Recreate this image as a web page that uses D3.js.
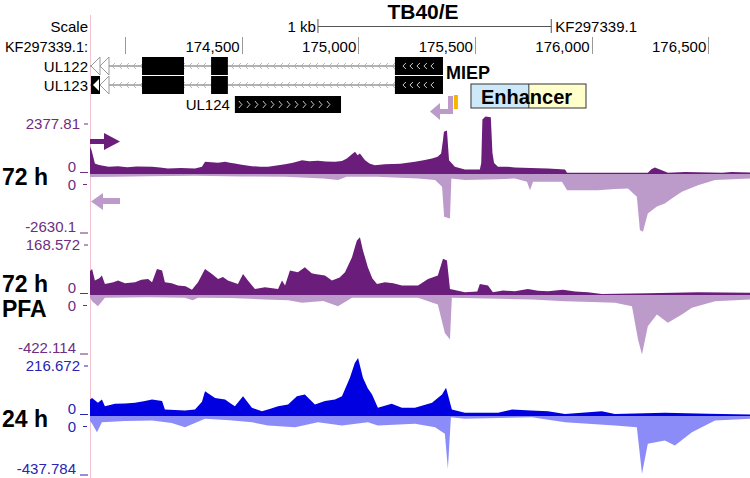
<!doctype html>
<html>
  <head>
    <script src="https://d3js.org/d3.v7.min.js"></script>
    <style>
      body { margin: 0; background: #fff; }
      svg text { font-family: "Liberation Sans", Arial, sans-serif; }
      .lbl { font-size: 15px; fill: #000; }
      .big { font-size: 23px; font-weight: bold; fill: #000; }
    </style>
  </head>
  <body>
    <div id="area1"></div>
    <script>
      var width = 750, height = 478;

      // genome window and axis ticks (bp)
      var viewStart = 173850, viewEnd = 176679;
      var tickPos = [174000, 174500, 175000, 175500, 176000, 176500];
      var tickLabels = ["", "174,500", "175,000", "175,500", "176,000", "176,500"];

      // gene models (bp)
      var intronSpan = [173850, 175157];
      var exons = [[174073, 174253], [174369, 174441], [175157, 175363]];
      var ul124 = [174471, 174926];
      var enhancer = [175483, 175731, 175976];
      var orangeMark = [175410, 175427];

      // track names and y-axis ranges
      var trackNames = [["72 h"], ["72 h", "PFA"], ["24 h"]];
      var trackMax = [2377.81, 168.572, 216.672];
      var trackMin = [-2630.1, -422.114, -437.784];

      // signal, [bp, value]
      var t1Plus = [[173850,1300],[173857,1100],[173871,480],[173885,420],[173900,385],[173930,330],[173970,350],[174010,300],[174050,340],[174116,320],[174150,290],[174184,240],[174240,260],[174300,240],[174330,330],[174343,560],[174370,540],[174399,515],[174429,560],[174450,520],[174471,480],[174500,420],[174544,350],[174580,330],[174613,320],[174650,380],[174686,445],[174720,520],[174759,640],[174790,590],[174827,610],[174860,580],[174900,560],[174930,600],[174951,720],[174970,900],[174986,1040],[174997,880],[175007,960],[175029,640],[175050,470],[175071,400],[175114,445],[175180,470],[175243,560],[175280,640],[175316,720],[175340,800],[175355,960],[175363,1600],[175367,2000],[175380,2060],[175389,640],[175414,320],[175457,190],[175521,190],[175527,500],[175532,2600],[175545,2740],[175568,2700],[175575,1000],[175582,500],[175599,320],[175640,330],[175671,290],[175740,270],[175813,240],[175850,220],[175886,190],[175895,35],[176241,35],[176256,200],[176271,290],[176301,160],[176327,35],[176400,70],[176456,60],[176560,40],[176600,70],[176679,50]];
      var t1Minus = [[173850,150],[173970,145],[174100,120],[174300,100],[174500,130],[174686,145],[174850,220],[174913,290],[174950,145],[175080,145],[175256,220],[175329,290],[175359,580],[175368,1900],[175393,1970],[175399,220],[175457,290],[175600,250],[175671,220],[175723,365],[175736,730],[175749,365],[175873,365],[175895,730],[176027,730],[176100,680],[176156,660],[176194,1020],[176207,2480],[176220,2550],[176241,1750],[176280,1450],[176314,1310],[176350,1050],[176387,800],[176456,510],[176529,290],[176679,220]];
      var t2Plus = [[173850,80],[173859,87],[173871,48],[173890,55],[173901,65],[173914,36],[173950,42],[173970,48],[174000,38],[174043,42],[174070,50],[174099,53],[174116,42],[174137,87],[174159,82],[174171,42],[174200,38],[174227,31],[174260,28],[174287,16],[174313,42],[174343,87],[174373,70],[174399,53],[174420,60],[174441,48],[174484,36],[174506,70],[174527,48],[174557,19],[174600,25],[174656,19],[174673,48],[174686,31],[174707,82],[174741,76],[174771,93],[174800,72],[174814,70],[174857,65],[174887,48],[174920,58],[174943,76],[174973,127],[174985,160],[174994,184],[175007,195],[175020,150],[175041,93],[175060,55],[175080,36],[175114,42],[175150,38],[175187,31],[175256,31],[175299,53],[175341,65],[175363,122],[175380,116],[175393,19],[175457,8],[175510,10],[175521,36],[175556,31],[175577,8],[175620,14],[175671,11],[175727,19],[175770,13],[175813,11],[175877,16],[175930,10],[175984,8],[176044,2],[176241,4],[176456,8],[176679,6]];
      var t2Minus = [[173850,23],[173859,47],[173884,82],[173914,23],[174100,20],[174257,23],[174290,40],[174313,23],[174450,25],[174600,35],[174700,40],[174759,58],[174850,45],[174913,82],[174973,23],[175256,23],[175341,70],[175371,270],[175393,317],[175401,23],[175744,35],[175886,47],[176000,52],[176100,58],[176173,82],[176199,317],[176216,422],[176241,223],[176280,141],[176327,199],[176387,141],[176430,94],[176529,47],[176679,35]];
      var t3Plus = [[173850,70],[173859,77],[173884,56],[173901,70],[173914,41],[173957,51],[174000,52],[174043,56],[174080,62],[174116,70],[174159,63],[174171,26],[174257,22],[174300,26],[174330,60],[174343,106],[174386,77],[174429,70],[174450,55],[174471,41],[174506,84],[174544,34],[174587,19],[174620,28],[174656,41],[174699,48],[174737,84],[174771,92],[174814,48],[174857,63],[174900,70],[174930,84],[174964,165],[174985,230],[174999,252],[175020,165],[175040,120],[175059,92],[175084,34],[175143,51],[175187,34],[175243,34],[175316,56],[175359,92],[175376,121],[175384,92],[175401,26],[175457,12],[175599,12],[175659,26],[175740,22],[175813,19],[175886,7],[176044,19],[176100,7],[176314,12],[176500,8],[176679,4]];
      var t3Minus = [[173850,40],[173859,61],[173880,122],[173901,49],[174000,40],[174116,36],[174200,55],[174257,85],[174343,24],[174450,35],[174544,49],[174613,73],[174729,85],[174827,49],[174930,73],[175041,49],[175084,73],[175243,61],[175329,85],[175371,134],[175384,389],[175397,12],[175457,24],[175744,12],[175886,49],[176100,73],[176194,85],[176216,425],[176241,206],[176314,182],[176357,219],[176430,122],[176529,36],[176679,24]];

      var plusSeries = [t1Plus, t2Plus, t3Plus];
      var minusSeries = [t1Minus, t2Minus, t3Minus];
      var darkCol = ["#6b1d7b", "#6b1d7b", "#0000e0"];
      var lightCol = ["#bc9bcb", "#bc9bcb", "#8c8cf8"];
      var axisCol = ["#6e2d80", "#6e2d80", "#2626b0"];

      var svg = d3.select("#area1").append("svg")
          .attr("width", width)
          .attr("height", height);

      var x = d3.scaleLinear().domain([viewStart, viewEnd]).range([90, 750]);

      // pink left guide
      svg.append("line")
          .attr("x1", 90.5).attr("x2", 90.5).attr("y1", 15).attr("y2", height)
          .attr("stroke", "#f2c4d2").attr("stroke-width", 1);

      // title + scale bar
      svg.append("text").attr("x", 423).attr("y", 19)
          .attr("text-anchor", "middle").style("font-size", "21px").style("font-weight", "bold")
          .text("TB40/E");
      svg.append("text").attr("class", "lbl").attr("x", 88).attr("y", 32)
          .attr("text-anchor", "end").text("Scale");
      svg.append("text").attr("class", "lbl").attr("x", x(174750) + 16).attr("y", 32)
          .attr("text-anchor", "end").text("1 kb");
      svg.append("line").attr("x1", x(174750) + 18).attr("x2", x(175750) + 18)
          .attr("y1", 26.5).attr("y2", 26.5).attr("stroke", "#555");
      [x(174750) + 18, x(175750) + 18].forEach(function(p) {
        svg.append("line").attr("x1", p).attr("x2", p).attr("y1", 19).attr("y2", 33)
            .attr("stroke", "#555");
      });
      svg.append("text").attr("class", "lbl").attr("x", x(175750) + 22).attr("y", 32)
          .text("KF297339.1");

      // position axis
      svg.append("text").attr("class", "lbl").style("font-size", "14.5px").attr("x", 88).attr("y", 52)
          .attr("text-anchor", "end").text("KF297339.1:");
      tickPos.forEach(function(p, i) {
        svg.append("line").attr("x1", Math.round(x(p)) + 0.5).attr("x2", Math.round(x(p)) + 0.5)
            .attr("y1", 37).attr("y2", 54).attr("stroke", "#999");
        svg.append("text").attr("class", "lbl").attr("x", x(p) - 2).attr("y", 52)
            .attr("text-anchor", "end").text(tickLabels[i]);
      });

      // gene rows
      var rows = [{name: "UL122", y: 57}, {name: "UL123", y: 76}];
      var rowH = 18;
      rows.forEach(function(r, ri) {
        var cy = r.y + rowH / 2;
        svg.append("text").attr("class", "lbl").attr("x", 88).attr("y", cy + 5.5)
            .attr("text-anchor", "end").text(r.name);
        svg.append("line").attr("x1", x(intronSpan[0])).attr("x2", x(intronSpan[1]))
            .attr("y1", cy).attr("y2", cy).attr("stroke", "#999").attr("stroke-width", 1.5);
        // strand chevrons
        for (var cx = x(intronSpan[0]) + 22; cx < x(intronSpan[1]) - 2; cx += 7) {
          svg.append("path")
              .attr("d", "M" + (cx + 3) + "," + (cy - 3) + "L" + cx + "," + cy + "L" + (cx + 3) + "," + (cy + 3))
              .attr("fill", "none").attr("stroke", "#aaa").attr("stroke-width", 0.8);
        }
        exons.forEach(function(e) {
          svg.append("rect").attr("x", x(e[0])).attr("y", r.y)
              .attr("width", x(e[1]) - x(e[0])).attr("height", rowH).attr("fill", "#000");
        });
        var ex = exons[2];
        for (var k = 0; k < 5; k++) {
          var kx = x(ex[0]) + 8 + k * 7;
          svg.append("path")
              .attr("d", "M" + (kx + 3) + "," + (cy - 3) + "L" + kx + "," + cy + "L" + (kx + 3) + "," + (cy + 3))
              .attr("fill", "none").attr("stroke", "#fff").attr("stroke-width", 0.8);
        }
        // left-edge triangles
        var lx = x(viewStart);
        if (ri === 1) {
          svg.append("rect").attr("x", lx + 1).attr("y", r.y).attr("width", 9).attr("height", rowH).attr("fill", "#000");
          svg.append("path").attr("d", "M" + (lx + 3) + "," + cy + "L" + (lx + 9) + "," + (r.y + 3) + "L" + (lx + 9) + "," + (r.y + rowH - 3) + "Z")
              .attr("fill", "#fff");
        } else {
          svg.append("path").attr("d", "M" + (lx + 1) + "," + cy + "L" + (lx + 10) + "," + r.y + "L" + (lx + 10) + "," + (r.y + rowH) + "Z")
              .attr("fill", "#fff").attr("stroke", "#999");
        }
        svg.append("path").attr("d", "M" + (lx + 10) + "," + cy + "L" + (lx + 19) + "," + r.y + "L" + (lx + 19) + "," + (r.y + rowH) + "Z")
            .attr("fill", "#fff").attr("stroke", "#999");
      });
      svg.append("text").attr("x", x(exons[2][1]) + 3).attr("y", 79)
          .style("font-size", "18px").style("font-weight", "bold").text("MIEP");

      // UL124
      svg.append("text").attr("class", "lbl").attr("x", x(ul124[0]) - 5).attr("y", 110)
          .attr("text-anchor", "end").text("UL124");
      svg.append("rect").attr("x", x(ul124[0])).attr("y", 96)
          .attr("width", x(ul124[1]) - x(ul124[0])).attr("height", 17).attr("fill", "#000");
      for (var k = x(ul124[0]) + 4; k < x(ul124[1]) - 8; k += 8) {
        svg.append("path").attr("d", "M" + k + ",101L" + (k + 3) + ",104.5L" + k + ",108")
            .attr("fill", "none").attr("stroke", "#fff").attr("stroke-width", 0.8);
      }

      // enhancer box
      svg.append("rect").attr("x", x(enhancer[0])).attr("y", 84)
          .attr("width", x(enhancer[1]) - x(enhancer[0])).attr("height", 24).attr("fill", "#cde9f9");
      svg.append("rect").attr("x", x(enhancer[1])).attr("y", 84)
          .attr("width", x(enhancer[2]) - x(enhancer[1])).attr("height", 24).attr("fill", "#ffffcc");
      svg.append("rect").attr("x", x(enhancer[0])).attr("y", 84)
          .attr("width", x(enhancer[2]) - x(enhancer[0])).attr("height", 24)
          .attr("fill", "none").attr("stroke", "#333");
      svg.append("line").attr("x1", x(enhancer[1])).attr("x2", x(enhancer[1]))
          .attr("y1", 84).attr("y2", 108).attr("stroke", "#333");
      svg.append("text").attr("x", x(enhancer[0]) + 10).attr("y", 104)
          .style("font-size", "20px").style("font-weight", "bold").text("Enhancer");

      // orange mark + bent arrow
      svg.append("rect").attr("x", x(orangeMark[0])).attr("y", 95)
          .attr("width", x(orangeMark[1]) - x(orangeMark[0])).attr("height", 14).attr("fill", "#f7b500");
      svg.append("path")
          .attr("d", "M448,96L453,96L453,114L440,114L440,120L430,111.5L440,103L440,109L448,109Z")
          .attr("fill", "#bc9bcb");

      // signal tracks
      var trackTop = [124, 245, 366], posH = 49.5, negH = 60;
      trackTop.forEach(function(top, i) {
        var zero = top + posH, bottom = zero + negH;
        var yP = d3.scaleLinear().domain([0, trackMax[i]]).range([zero, top]);
        var yN = d3.scaleLinear().domain([0, -trackMin[i]]).range([zero, bottom]);

        svg.append("path").datum(minusSeries[i])
            .attr("d", d3.area().x(function(d) { return x(d[0]); }).y0(zero).y1(function(d) { return yN(d[1]); }))
            .attr("fill", lightCol[i]);
        svg.append("path").datum(plusSeries[i])
            .attr("d", d3.area().x(function(d) { return x(d[0]); }).y0(zero + 0.5).y1(function(d) { return yP(d[1]); }))
            .attr("fill", darkCol[i]);

        var c = axisCol[i];
        var g = svg.append("g").style("font-size", "15px").attr("fill", c);
        g.append("text").attr("x", 80).attr("y", top + 5).attr("text-anchor", "end").text(trackMax[i]);
        g.append("line").attr("x1", 84).attr("x2", 88).attr("y1", top).attr("y2", top).attr("stroke", c);
        g.append("text").attr("x", 76).attr("y", zero - 2).attr("text-anchor", "end").text("0");
        g.append("line").attr("x1", 80).attr("x2", 88).attr("y1", zero - 1).attr("y2", zero - 1).attr("stroke", c);
        g.append("text").attr("x", 76).attr("y", zero + 16).attr("text-anchor", "end").text("0");
        g.append("line").attr("x1", 83).attr("x2", 87).attr("y1", zero + 11).attr("y2", zero + 11).attr("stroke", c);
        g.append("text").attr("x", 76).attr("y", bottom - 2).attr("text-anchor", "end").text(trackMin[i]);
        g.append("line").attr("x1", 80).attr("x2", 88).attr("y1", bottom - 0.5).attr("y2", bottom - 0.5).attr("stroke", c);

        var names = trackNames[i];
        names.forEach(function(n, j) {
          var cy = names.length === 1 ? zero + 3 : zero - 11 + j * 25;
          svg.append("text").attr("class", "big").attr("x", 2).attr("y", cy + 8).text(n);
        });
      });

      // strand arrows on first track
      svg.append("path").attr("d", "M90,139L104,139L104,133L120,141.5L104,150L104,144L90,144Z").attr("fill", "#6b1d7b");
      svg.append("path").attr("d", "M120,198L103,198L103,193L91,201.5L103,210L103,204L120,204Z").attr("fill", "#bc9bcb");
    </script>
  </body>
</html>
